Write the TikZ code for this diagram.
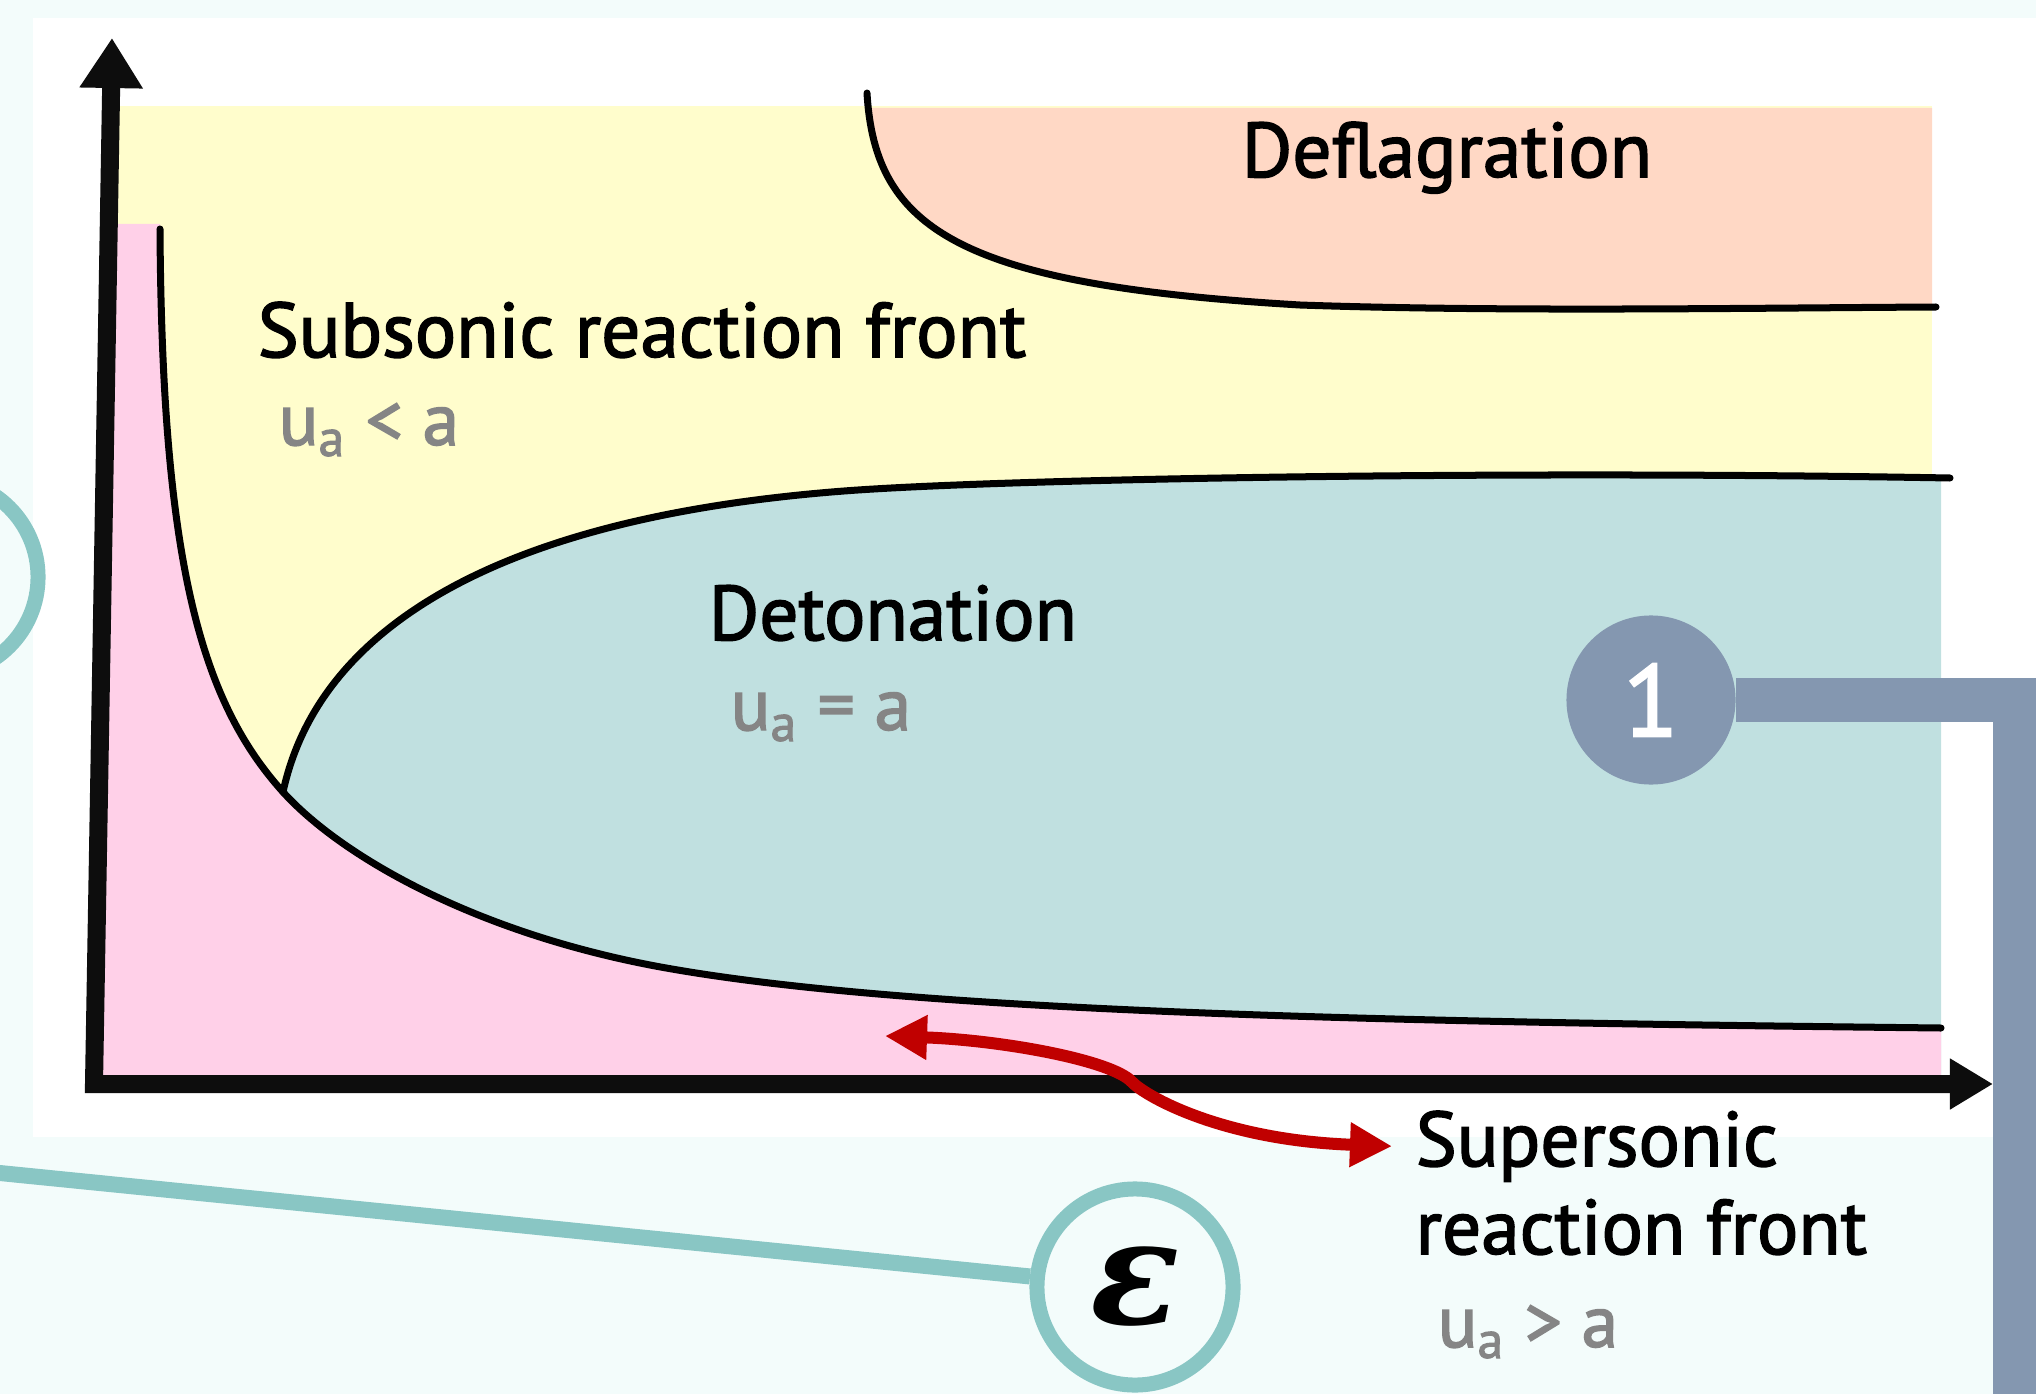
\documentclass[tikz,border=0pt]{standalone}
\usepackage{fontspec}
\setmainfont{PT Sans}
\newfontfamily\diagfont{PT Sans}[FakeBold=2]
\newfontfamily\epsfont{DejaVu Serif}
\usetikzlibrary{arrows.meta}

\definecolor{bgmint}{HTML}{F3FCFB}
\definecolor{subyellow}{HTML}{FFFDCC}
\definecolor{supink}{HTML}{FFD0E8}
\definecolor{detteal}{HTML}{C0E0E0}
\definecolor{defpeach}{HTML}{FFD8C5}
\definecolor{dotgray}{HTML}{8497B0}
\definecolor{ringteal}{HTML}{89C6C4}
\definecolor{flipred}{HTML}{C00000}
\definecolor{speedgray}{HTML}{858585}
\definecolor{axisblack}{HTML}{0D0D0D}

% boundary curves of the regime map
\def\defline{(867,93) .. controls (875,230) and (960,285) .. (1300,305)
  .. controls (1500,312) and (1750,308) .. (1936,307)}
\def\upperline{(283,792) .. controls (305,690) and (400,525) .. (844,491)
  .. controls (1000,479) and (1500,470) .. (1950,478)}
\def\lowerline{(160,229) .. controls (162,560) and (200,700) .. (283,792)
  .. controls (340,855) and (470,930) .. (650,965)
  .. controls (900,1013) and (1400,1022) .. (1941,1028)}

\begin{document}
\begin{tikzpicture}[x=0.01cm, y=-0.01cm,
    regionlabel/.style={font=\diagfont\fontsize{22}{26}\selectfont, inner sep=0pt, anchor=base west},
    speedlabel/.style={font=\diagfont\fontsize{21}{25}\selectfont, text=speedgray, inner sep=0pt, anchor=base west},
    curveline/.style={line width=0.07cm, line cap=round},
    axisline/.style={line width=0.18cm, axisblack, line join=miter,
                     {Triangle[length=0.5cm,width=0.6cm]}-{Triangle[length=0.43cm,width=0.48cm]}},
    numdot/.style={circle, fill=dotgray, minimum size=1.69cm, inner sep=0pt, text=white,
                   font=\diagfont\fontsize{29}{30}\selectfont},
    epsring/.style={circle, draw=ringteal, line width=0.15cm, fill=bgmint, minimum size=1.96cm, inner sep=0pt},
    leadgray/.style={dotgray, line width=0.43cm},
    leadteal/.style={ringteal, line width=0.16cm},
    fliparrow/.style={flipred, line width=0.12cm,
                      {Triangle[length=0.42cm,width=0.42cm]}-{Triangle[length=0.42cm,width=0.42cm]}},
  ]
    \useasboundingbox (0,0) rectangle (2036,1394);
    \clip (0,0) rectangle (2036,1394);
    \fill[bgmint] (0,0) rectangle (2036,1394);
    \fill[white] (33,18) rectangle (2036,1137);

    % regions
    \fill[subyellow] (118,106) rectangle (1932,800);
    \fill[defpeach] \defline -- (1932,307) -- (1932,108) -- (868,108) -- cycle;
    \fill[detteal] \upperline -- (1941,480) -- (1941,1078) -- (283,1078) -- cycle;
    \fill[supink] \lowerline -- (1941,1078) -- (100,1078) -- (100,224) -- (160,224) -- cycle;

    % boundaries
    \draw[curveline] \defline;
    \draw[curveline] \upperline;
    \draw[curveline] \lowerline;

    % axes
    \coordinate (ytip) at (112,38);
    \coordinate (origin) at (94,1084);
    \coordinate (xtip) at (1993,1084);
    \draw[axisline] (ytip) -- (origin) -- (xtip);

    % labels
    \node[regionlabel] (defl) at (1241,177) {Deflagration};
    \node[regionlabel] (subl) at (257,357) {Subsonic reaction front};
    \node[speedlabel] (subv) at (278,445) {u\textsubscript{a} < a};
    \node[regionlabel] (detl) at (708,640) {Detonation};
    \node[speedlabel] (detv) at (730,730) {u\textsubscript{a} = a};
    \node[regionlabel] (supl) at (1415,1166) {Supersonic};
    \node[regionlabel] (supm) at (1415,1254) {reaction front};
    \node[speedlabel] (supv) at (1437,1347) {u\textsubscript{a} > a};

    % transition arrow
    \coordinate (pinkend) at (885,1036);
    \coordinate (bend) at (1132,1082);
    \draw[fliparrow] (pinkend) .. controls (1000,1040) and (1112,1060) .. (bend)
      .. controls (1144,1095) and (1220,1140) .. ([xshift=-0.23cm]supl.west);

    % callouts
    \node[numdot] (one) at (1651,700) {1};
    \coordinate (leadend) at (2014,1430);
    \draw[leadgray] (one.east) -| (leadend);

    \node[epsring] (ringL) at (-60,577) {};
    \node[epsring] (eps) at (1135,1287) {\epsfont\fontsize{42}{44}\selectfont\bfseries\itshape ε};
    \coordinate (leadL) at (-30,1170);
    \draw[leadteal] (leadL) -- (eps);
\end{tikzpicture}
\end{document}
